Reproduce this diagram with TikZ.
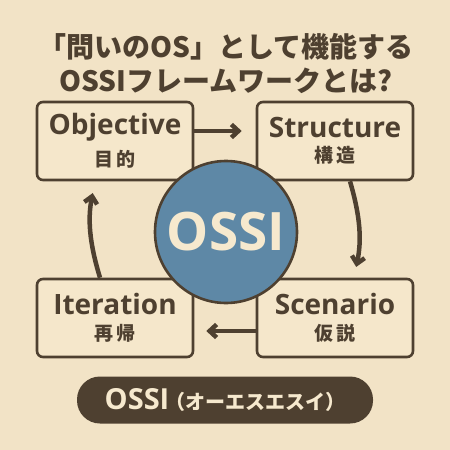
\documentclass[tikz,border=0pt]{standalone}
\usepackage{fontspec}
\newfontfamily\jp{Noto Sans CJK JP}
\newfontfamily\lat{Open Sans}
\usetikzlibrary{arrows.meta,positioning}
\definecolor{bg}{HTML}{F2E3C6}
\definecolor{boxfill}{HTML}{F5E7CB}
\definecolor{brown}{HTML}{4E4030}
\definecolor{ossiblue}{HTML}{5E88A6}
\definecolor{cream}{HTML}{F6E9CE}

\begin{document}
\begin{tikzpicture}[x=1pt,y=-1pt,>={Straight Barb[length=7pt,width=13pt]},bend angle=14]
  \tikzstyle{stage}=[rectangle,rounded corners=6pt,line width=2.6pt,draw=brown,fill=boxfill,
    text=brown,minimum width=156pt,minimum height=78pt,align=center,inner sep=0pt]
  \tikzstyle{flow}=[->,line width=4.5pt,draw=brown]
  \tikzstyle{title}=[text=brown,font=\jp\bfseries\fontsize{28}{30}\selectfont]
  \newcommand{\en}[1]{{\lat\bfseries\fontsize{28}{30}\selectfont #1}}
  \newcommand{\ja}[2]{{\jp\bfseries\fontsize{19}{22}\selectfont #1\hspace{3pt}#2}}

  \fill[bg] (0,0) rectangle (450,450);
  \useasboundingbox (0,0) rectangle (450,450);

  \node[title] (t1) at (226,47) {「問いのOS」として機能する};
  \node[title] (t2) at (226,81) {OSSIフレームワークとは?};

  \node[stage] (obj) at (115,141) {\en{Objective}\\[8pt]\ja{目}{的}};
  \node[stage] (str) at (335,141) {\en{Structure}\\[8pt]\ja{構}{造}};
  \node[stage] (itr) at (115,318) {\en{Iteration}\\[8pt]\ja{再}{帰}};
  \node[stage] (scn) at (335,318) {\en{Scenario}\\[8pt]\ja{仮}{説}};

  \draw[flow,shorten >=14pt] ([yshift=10pt]obj.east) -- ([yshift=10pt]str.west);
  \draw[flow,shorten >=11pt] ([xshift=15pt]str.south) to[bend left] ([xshift=19pt]scn.north);
  \draw[flow,shorten >=12pt] ([yshift=-13pt]scn.west) -- ([yshift=-13pt]itr.east);
  \draw[flow,shorten >=12pt] ([xshift=-15pt]itr.north) to[bend left] ([xshift=-20pt]obj.south);

  \node[circle,minimum size=142pt,inner sep=0pt,line width=2.6pt,draw=brown,fill=ossiblue,
    text=cream,font=\lat\bfseries\fontsize{53}{56}\selectfont] (core) at (226,232) {OSSI};

  \node[rectangle,rounded corners=23pt,minimum width=296pt,minimum height=47pt,fill=brown,
    text=cream] (tag) at (225,400)
    {{\lat\bfseries\fontsize{29}{30}\selectfont OSSI}\hspace{-4pt}{\jp\bfseries\fontsize{20}{22}\selectfont（オーエスエスイ）}}; %label
\end{tikzpicture}
\end{document}
